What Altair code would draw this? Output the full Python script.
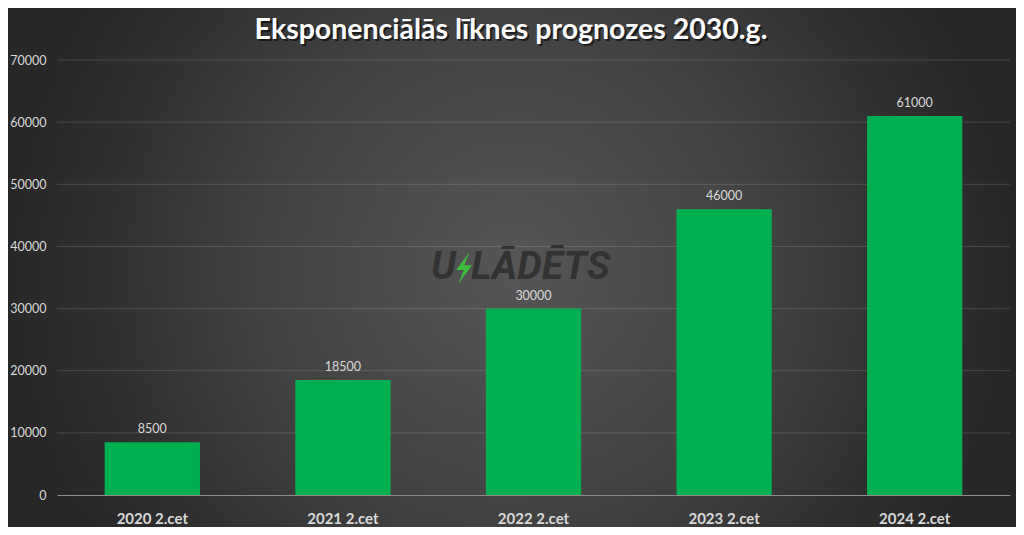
import altair as alt
import pandas as pd

# ---- data ----
categories = ["2020 2.cet", "2021 2.cet", "2022 2.cet", "2023 2.cet", "2024 2.cet"]
values = [8500, 18500, 30000, 46000, 61000]
y_ticks = [0, 10000, 20000, 30000, 40000, 50000, 60000, 70000]
title_text = "Eksponenciālās līknes prognozes 2030.g."

W, H = 953, 435
PAD = {"left": 49, "top": 52, "right": 6, "bottom": 32}
FONT = "Lato"
LABEL = "#d9d9d9"

df = pd.DataFrame({"cat": categories, "val": values})
grid_df = pd.DataFrame({"val": y_ticks[1:]})
one = pd.DataFrame({"a": [0]})

yscale = alt.Scale(domain=[0, 70000])
xscale = alt.Scale(paddingInner=0.5, paddingOuter=0.25)
y_axis = alt.Axis(title=None, values=y_ticks, format="d", grid=False,
                  ticks=False, domain=False, labelColor=LABEL,
                  labelFont=FONT, labelFontSize=12.5, labelPadding=11, zindex=1)

bg = alt.Chart(one).mark_rect(
    fill={
        "gradient": "radial",
        "x1": 0.5, "y1": 0.5, "r1": 0,
        "x2": 0.5, "y2": 0.5, "r2": 0.5,
        "stops": [
            {"offset": 0.0, "color": "#565656"},
            {"offset": 0.5, "color": "#424242"},
            {"offset": 0.8, "color": "#303030"},
            {"offset": 1.0, "color": "#272727"},
        ],
    }
).encode(
    x=alt.value(-PAD["left"]), x2=alt.value(W + PAD["right"]),
    y=alt.value(-PAD["top"]), y2=alt.value(H + PAD["bottom"]),
)

grid = alt.Chart(grid_df).mark_rule(color="#ffffff", opacity=0.14, strokeWidth=1).encode(
    y=alt.Y("val:Q", scale=yscale, axis=y_axis),
    x=alt.value(0), x2=alt.value(W),
)

# watermark
wm_u = alt.Chart(one).mark_text(
    text="U", font="Roboto", fontSize=39, fontWeight="bold", fontStyle="italic",
    color="#333333", align="right", baseline="middle"
).encode(x=alt.value(399), y=alt.value(207))
wm_rest = alt.Chart(one).mark_text(
    text="LĀDĒTS", font="Roboto", fontSize=39, fontWeight="bold", fontStyle="italic",
    color="#333333", align="left", baseline="middle"
).encode(x=alt.value(414), y=alt.value(207))
wm_bolt = alt.Chart(one).mark_point(
    shape="M0.35,-1 L-0.5,0.12 L-0.02,0.12 L-0.35,1 L0.5,-0.18 L0.02,-0.18 Z",
    filled=True, fill="#3dbb3d", opacity=1, strokeWidth=0, size=1000
).encode(x=alt.value(407), y=alt.value(208))

bars = alt.Chart(df).mark_bar(color="#00b050").encode(
    x=alt.X("cat:N", sort=categories, scale=xscale,
            axis=alt.Axis(title=None, labelAngle=0, ticks=False, domain=True,
                          domainColor="#8c8c8c", domainWidth=1,
                          labelColor=LABEL, labelFont=FONT, labelFontSize=15,
                          labelFontWeight="bold", labelPadding=16, zindex=1)),
    y=alt.Y("val:Q", scale=yscale, axis=y_axis),
)

labels = alt.Chart(df).mark_text(
    font=FONT, fontSize=12.5, color=LABEL, baseline="bottom", dy=-6
).encode(
    x=alt.X("cat:N", sort=categories, scale=xscale),
    y=alt.Y("val:Q", scale=yscale),
    text=alt.Text("val:Q", format="d"),
)

title_shadow = alt.Chart(one).mark_text(
    text=title_text, font=FONT, fontSize=28.5, fontWeight="bold",
    color="#000000", opacity=0.55, align="center", baseline="middle"
).encode(x=alt.value(456), y=alt.value(-28))
title = alt.Chart(one).mark_text(
    text=title_text, font=FONT, fontSize=28.5, fontWeight="bold",
    color="#ffffff", align="center", baseline="middle"
).encode(x=alt.value(454), y=alt.value(-30))

chart = alt.layer(
    bg, grid, wm_u, wm_rest, wm_bolt, bars, labels, title_shadow, title
).properties(
    width=W, height=H, padding=PAD,
    autosize=alt.AutoSizeParams(type="none"),
    background="#2a2a2a",
).configure_view(stroke=None)

chart.save("out.html", embed_options={"renderer": "svg", "actions": False})
